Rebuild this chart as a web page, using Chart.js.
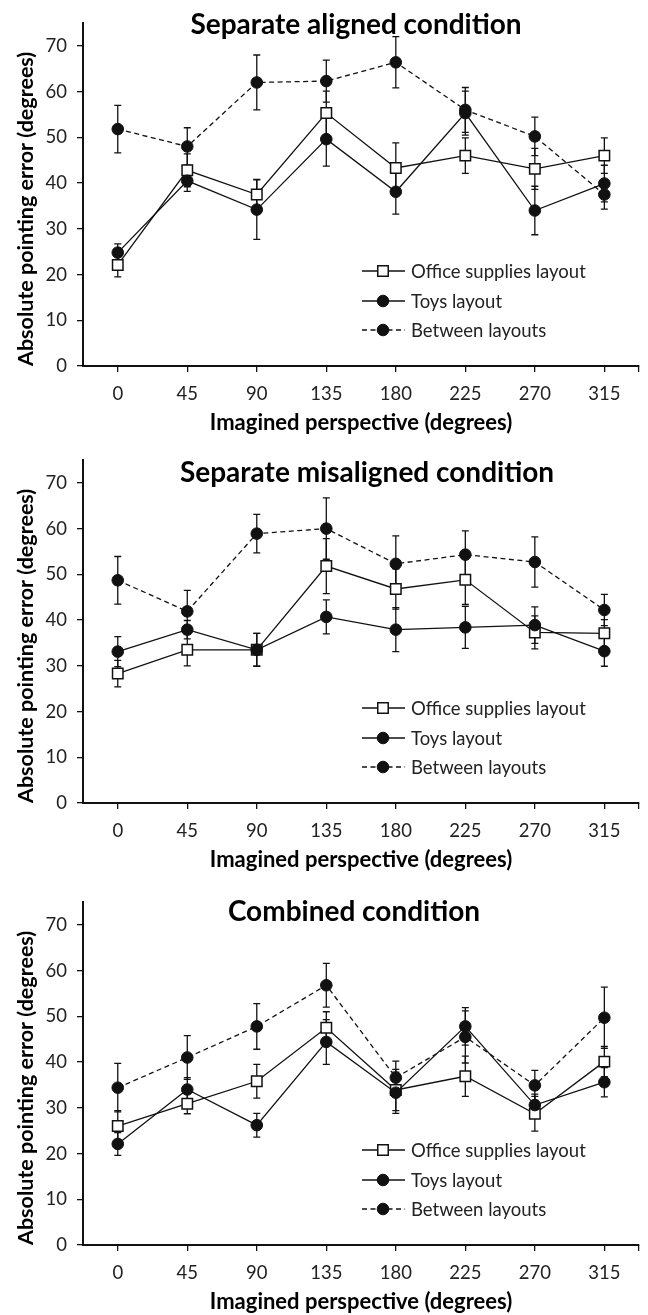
<!DOCTYPE html>
<html>
<head>
<meta charset="utf-8">
<script src="https://cdn.jsdelivr.net/npm/chart.js@4.4.1/dist/chart.umd.min.js"></script>
<style>
  html, body { margin: 0; padding: 0; background: #fff; }
  #wrap { position: relative; width: 648px; height: 1315px; }
  canvas { position: absolute; left: 0; }
</style>
</head>
<body>
<div id="wrap">
  <canvas id="alignedCanvas" width="648" height="436" style="top:0px"></canvas>
  <canvas id="misalignedCanvas" width="648" height="436" style="top:437px"></canvas>
  <canvas id="combinedCanvas" width="648" height="436" style="top:879px"></canvas>
</div>
<script>
const perspectives = ['0', '45', '90', '135', '180', '225', '270', '315'];
const yTicks = [0, 10, 20, 30, 40, 50, 60, 70];
const seriesNames = ['Office supplies layout', 'Toys layout', 'Between layouts'];

// Separate aligned condition
const alignedOffice = [22.1, 42.8, 37.5, 55.3, 43.3, 46.0, 43.1, 46.0];
const alignedOfficeErr = [2.6, 3.6, 3.3, 4.8, 5.5, 3.9, 4.5, 3.9];
const alignedToys = [24.8, 40.5, 34.2, 49.6, 38.1, 55.3, 34.0, 39.9];
const alignedToysErr = [1.9, 2.3, 6.5, 5.9, 4.9, 4.8, 5.3, 4.0];
const alignedBetween = [51.8, 48.0, 62.0, 62.3, 66.4, 56.0, 50.2, 37.5];
const alignedBetweenErr = [5.2, 4.1, 6.0, 4.6, 5.6, 4.9, 4.2, 3.2];

// Separate misaligned condition
const misalignedOffice = [28.3, 33.5, 33.5, 51.8, 46.8, 48.8, 37.3, 37.1];
const misalignedOfficeErr = [2.9, 3.5, 3.6, 6.0, 4.4, 5.4, 3.6, 3.0];
const misalignedToys = [33.1, 37.9, 33.5, 40.7, 37.9, 38.4, 38.9, 33.2];
const misalignedToysErr = [3.3, 2.0, 3.6, 3.7, 4.8, 4.6, 4.0, 3.3];
const misalignedBetween = [48.7, 41.9, 58.9, 60.0, 52.3, 54.3, 52.7, 42.2];
const misalignedBetweenErr = [5.2, 4.6, 4.2, 6.7, 6.1, 5.2, 5.5, 3.4];

// Combined condition
const combinedOffice = [26.0, 30.9, 35.8, 47.5, 33.9, 36.9, 28.7, 40.1];
const combinedOfficeErr = [3.4, 2.2, 3.7, 3.5, 4.5, 4.4, 3.8, 3.3];
const combinedToys = [22.1, 34.0, 26.2, 44.4, 33.3, 47.8, 30.6, 35.6];
const combinedToysErr = [2.5, 2.6, 2.6, 4.9, 4.5, 4.1, 2.4, 3.2];
const combinedBetween = [34.4, 41.0, 47.8, 56.8, 36.6, 45.5, 34.9, 49.7];
const combinedBetweenErr = [5.3, 4.8, 5.0, 4.8, 3.6, 5.7, 3.3, 6.7];

const FONT = 'Lato, "Open Sans", sans-serif';
const INK = '#111';
const TEXT = '#222';
const DASH = [5, 3.5];

// vertical error bars with caps, drawn under the lines and markers
const errorBarsPlugin = {
    id: 'errorBars',
    beforeDatasetsDraw(chart) {
        const ctx = chart.ctx;
        const x = chart.scales.x, y = chart.scales.y;
        ctx.save();
        ctx.strokeStyle = INK;
        ctx.lineWidth = 1.3;
        chart.data.datasets.forEach(ds => {
            ds.data.forEach((v, j) => {
                const e = ds.errors[j];
                const px = x.getPixelForValue(j);
                const top = y.getPixelForValue(v + e);
                const bot = y.getPixelForValue(v - e);
                ctx.beginPath();
                ctx.moveTo(px, top); ctx.lineTo(px, bot);
                ctx.moveTo(px - 3.5, top); ctx.lineTo(px + 3.5, top);
                ctx.moveTo(px - 3.5, bot); ctx.lineTo(px + 3.5, bot);
                ctx.stroke();
            });
        });
        ctx.restore();
    }
};

// title sits inside the plot area, legend in the lower right
const panelDecorPlugin = {
    id: 'panelDecor',
    afterDraw(chart, args, opts) {
        const ctx = chart.ctx;
        const area = chart.chartArea;
        ctx.save();
        // last x tick at the end of the axis
        ctx.strokeStyle = INK;
        ctx.lineWidth = 1.3;
        ctx.beginPath();
        ctx.moveTo(area.right - 0.5, area.bottom);
        ctx.lineTo(area.right - 0.5, area.bottom + 6);
        ctx.stroke();

        ctx.fillStyle = '#000';
        ctx.font = 'bold 28px ' + FONT;
        ctx.textAlign = 'center';
        ctx.textBaseline = 'middle';
        ctx.fillText(opts.title, opts.titleX, opts.titleY);

        ctx.font = '18.5px ' + FONT;
        ctx.textAlign = 'left';
        chart.data.datasets.forEach((ds, i) => {
            const ly = area.bottom - opts.legendRows[i];
            ctx.strokeStyle = INK;
            ctx.lineWidth = 1.3;
            ctx.setLineDash(ds.borderDash || []);
            ctx.beginPath();
            ctx.moveTo(opts.legendX, ly);
            ctx.lineTo(opts.legendX + 43, ly);
            ctx.stroke();
            ctx.setLineDash([]);
            ctx.fillStyle = ds.pointBackgroundColor;
            ctx.lineWidth = ds.pointBorderWidth;
            Chart.helpers.drawPoint(ctx, {
                pointStyle: ds.pointStyle, radius: ds.pointRadius,
                borderWidth: ds.pointBorderWidth, rotation: 0
            }, opts.legendX + 21, ly);
            ctx.fillStyle = TEXT;
            ctx.fillText(seriesNames[i], opts.legendX + 49, ly + 1);
        });
        ctx.restore();
    }
};

function makeDataset(i, values, errors) {
    const base = {
        label: seriesNames[i],
        data: values,
        errors: errors,
        borderColor: INK,
        borderWidth: 1.3,
        tension: 0,
        fill: false,
        pointBorderColor: INK,
        pointHoverRadius: 0
    };
    if (i === 0) {
        return Object.assign(base, { order: 2, pointStyle: 'rect', pointRadius: 7.4,
            pointBackgroundColor: '#fff', pointBorderWidth: 1.5 });
    }
    if (i === 1) {
        return Object.assign(base, { order: 1, pointStyle: 'circle', pointRadius: 5.8,
            pointBackgroundColor: INK, pointBorderWidth: 1 });
    }
    return Object.assign(base, { order: 0, pointStyle: 'circle', pointRadius: 5.8,
        pointBackgroundColor: INK, pointBorderWidth: 1, borderDash: DASH });
}

function makePanel(canvasId, title, titleX, titleY, series) {
    const ctx = document.getElementById(canvasId).getContext('2d');
    return new Chart(ctx, {
        type: 'line',
        data: {
            labels: perspectives,
            datasets: series.map((s, i) => makeDataset(i, s[0], s[1]))
        },
        plugins: [errorBarsPlugin, panelDecorPlugin],
        options: {
            responsive: false,
            animation: false,
            events: [],
            layout: { padding: { top: 23, right: 1, left: 0, bottom: 0 } },
            scales: {
                x: {
                    offset: true,
                    grid: { offset: false, drawOnChartArea: false, tickLength: 6, color: INK, lineWidth: 1.3 },
                    border: { color: INK, width: 2 },
                    ticks: { color: TEXT, font: { family: FONT, size: 18.5 }, padding: 11, maxRotation: 0, autoSkip: false },
                    title: { display: true, text: 'Imagined perspective (degrees)', color: '#000',
                        font: { family: FONT, size: 22, weight: 'bold' }, padding: { top: 0, bottom: 0 } },
                    afterFit(scale) { scale.height = 70; }
                },
                y: {
                    min: 0,
                    max: 75,
                    afterBuildTicks(scale) { scale.ticks = yTicks.map(v => ({ value: v })); },
                    grid: { drawOnChartArea: false, tickLength: 6, color: INK, lineWidth: 1.3 },
                    border: { color: INK, width: 2 },
                    ticks: { color: TEXT, font: { family: FONT, size: 18.5 }, padding: 10 },
                    title: { display: true, text: 'Absolute pointing error (degrees)', color: '#000', align: 'start',
                        font: { family: FONT, size: 21.5, weight: 'bold' }, padding: { top: 13, bottom: 0 } },
                    afterFit(scale) { scale.width = 83; }
                }
            },
            plugins: {
                legend: { display: false },
                tooltip: { enabled: false },
                panelDecor: { title: title, titleX: titleX, titleY: titleY,
                    legendX: 362, legendRows: [95, 65, 36] }
            }
        }
    });
}

makePanel('alignedCanvas', 'Separate aligned condition', 356, 25, [
    [alignedOffice, alignedOfficeErr], [alignedToys, alignedToysErr], [alignedBetween, alignedBetweenErr]
]);
makePanel('misalignedCanvas', 'Separate misaligned condition', 367, 36, [
    [misalignedOffice, misalignedOfficeErr], [misalignedToys, misalignedToysErr], [misalignedBetween, misalignedBetweenErr]
]);
makePanel('combinedCanvas', 'Combined condition', 354, 33, [
    [combinedOffice, combinedOfficeErr], [combinedToys, combinedToysErr], [combinedBetween, combinedBetweenErr]
]);
</script>
</body>
</html>
